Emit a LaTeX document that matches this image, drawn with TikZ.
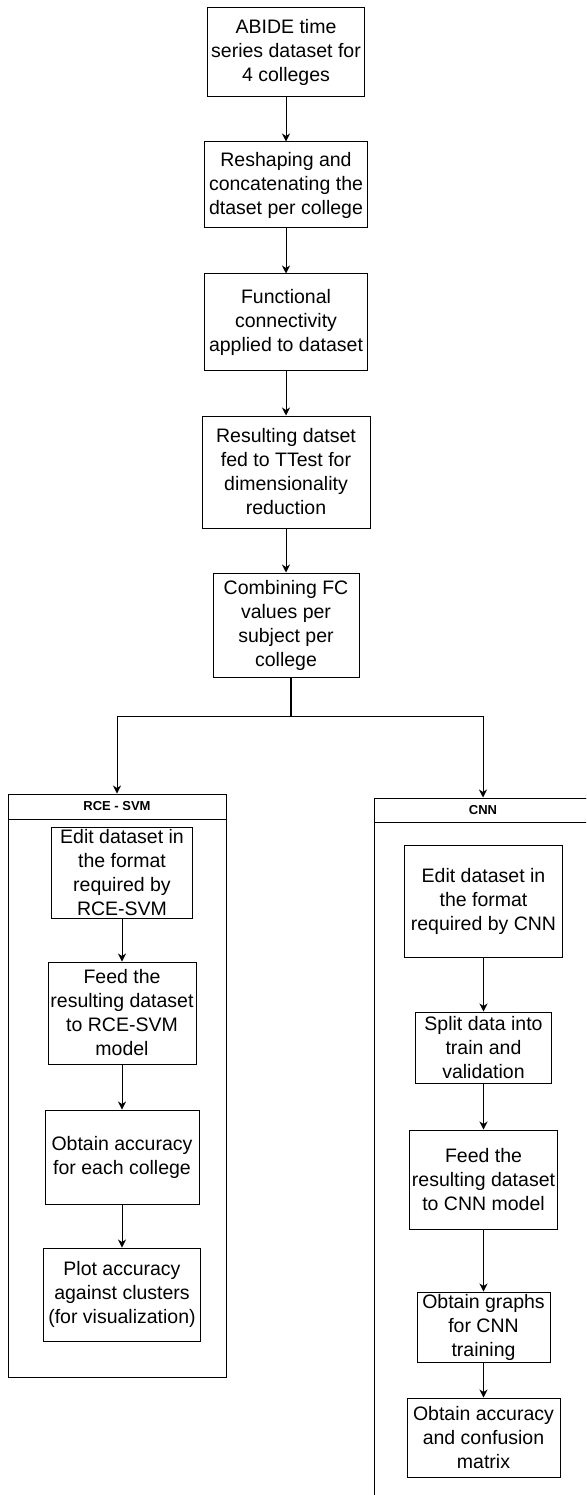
\documentclass[tikz,border=0pt]{standalone}
\usepackage{fontspec}
\setmainfont{Liberation Sans}
\usetikzlibrary{arrows.meta}

\begin{document}
\begin{tikzpicture}[x=1pt,y=-1pt,
  blk/.style={draw, line width=1pt, align=center, inner sep=0pt, font=\fontsize{19.5}{24}\selectfont},
  lane/.style={draw, line width=1pt, inner sep=0pt, minimum width=218pt},
  hdr/.style={draw, line width=1pt, inner sep=0pt, minimum width=218pt, minimum height=25pt, font=\fontsize{13}{15}\selectfont\bfseries},
  arr/.style={-{Stealth[length=8pt,width=8pt,inset=2.5pt]}, line width=1pt}]
\useasboundingbox (0,0) rectangle (586,1495);
\clip (0,0) rectangle (586,1495);
\node[blk, minimum width=157pt, minimum height=89pt] (s0) at (286,52.5){ABIDE time\\series dataset for\\4 colleges};
\node[blk, minimum width=163pt, minimum height=86pt] (s1) at (286,185){Reshaping and\\concatenating the\\dtaset per college};
\node[blk, minimum width=163pt, minimum height=96pt] (s2) at (286,322){Functional\\connectivity\\applied to dataset};
\node[blk, minimum width=168pt, minimum height=112pt] (s3) at (286,472){Resulting datset\\fed to TTest for\\dimensionality\\reduction};
\node[blk, minimum width=146pt, minimum height=104pt] (s4) at (286,625){Combining FC\\values per\\subject per\\college};
\draw[arr](s0) -- (s1);
\draw[arr](s1) -- (s2);
\draw[arr](s2) -- (s3);
\draw[arr](s3) -- (s4);
\coordinate (jn) at (291,716);

\node[lane, minimum height=583pt] (svmlane) at (117,1085.5){};
\node[hdr] (svmhead) at (117,806.5){RCE - SVM};
\node[blk, minimum width=141pt, minimum height=91pt] (l0) at (122,872.5){Edit dataset in\\the format\\required by\\RCE-SVM};
\node[blk, minimum width=148pt, minimum height=102pt] (l1) at (122,1013){Feed the\\resulting dataset\\to RCE-SVM\\model};
\node[blk, minimum width=154pt, minimum height=94pt] (l2) at (122,1157){Obtain accuracy\\for each college};
\node[blk, minimum width=157pt, minimum height=93pt] (l3) at (122,1294.5){Plot accuracy\\against clusters\\(for visualization)};
\draw[arr](l0) -- (l1);
\draw[arr](l1) -- (l2);
\draw[arr](l2) -- (l3);

\node[lane, minimum height=722pt] (cnnlane) at (483,1159){};
\node[hdr, minimum height=24pt] (cnnhead) at (483,810){CNN};
\node[blk, minimum width=158pt, minimum height=112pt] (r0) at (483.5,901){Edit dataset in\\the format\\required by CNN};
\node[blk, minimum width=136pt, minimum height=71pt] (r1) at (483.5,1047.5){Split data into\\train and\\validation};
\node[blk, minimum width=148pt, minimum height=99pt] (r2) at (483.5,1179.5){Feed the\\resulting dataset\\to CNN model};
\node[blk, minimum width=133pt, minimum height=70pt] (r3) at (483.5,1327){Obtain graphs\\for CNN\\training};
\node[blk, minimum width=153pt, minimum height=79pt] (r4) at (483.5,1437.5){Obtain accuracy\\and confusion\\matrix};
\draw[arr](r0) -- (r1);
\draw[arr](r1) -- (r2);
\draw[arr](r2) -- (r3);
\draw[arr](r3) -- (r4);

\draw[line width=2pt](s4.south -| jn) -- (jn);
\draw[arr](jn) -| (svmhead.north);
\draw[arr](jn) -| (cnnhead.north);

\end{tikzpicture}
\end{document}
